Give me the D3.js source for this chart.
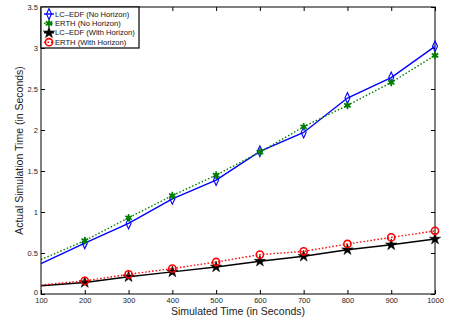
<!DOCTYPE html>
<html><head><meta charset="utf-8">
<script src="https://cdn.jsdelivr.net/npm/d3@7"></script>
<style>body{margin:0;background:#fff;}svg{display:block;font-family:"Liberation Sans",Arial,sans-serif;}</style>
</head><body><svg id="c" width="456" height="320"></svg>
<script>
const simTime = [100,200,300,400,500,600,700,800,900,1000];
const lcEdfNoHorizon = [0.37,0.62,0.86,1.16,1.39,1.74,1.97,2.39,2.64,3.02];
const erthNoHorizon  = [0.42,0.65,0.93,1.20,1.45,1.73,2.04,2.30,2.58,2.91];
const lcEdfWithHorizon = [0.10,0.14,0.21,0.27,0.33,0.40,0.46,0.54,0.60,0.67];
const erthWithHorizon  = [0.11,0.16,0.24,0.31,0.39,0.48,0.52,0.61,0.69,0.77];
const xTicks = [100,200,300,400,500,600,700,800,900,1000];
const yTicks = [0,0.5,1,1.5,2,2.5,3,3.5];
const seriesNames = ["LC\u2013EDF (No Horizon)","ERTH (No Horizon)","LC\u2013EDF (With Horizon)","ERTH (With Horizon)"];

const series = [
  {name:seriesNames[0], values:lcEdfNoHorizon, color:"#0000ff", dash:null, marker:"diamond"},
  {name:seriesNames[1], values:erthNoHorizon, color:"#008000", dash:"1.5,2", marker:"asterisk"},
  {name:seriesNames[2], values:lcEdfWithHorizon, color:"#000000", dash:null, marker:"star"},
  {name:seriesNames[3], values:erthWithHorizon, color:"#ff0000", dash:"1.5,2", marker:"circle"}
];

const svg = d3.select("#c");
const L=41, R=435, T=7, B=294;
const x = d3.scaleLinear().domain([100,1000]).range([L,R]);
const y = d3.scaleLinear().domain([0,3.5]).range([B,T]);

// frame
svg.append("rect").attr("x",L).attr("y",T).attr("width",R-L).attr("height",B-T)
  .attr("fill","none").attr("stroke","#000").attr("stroke-width",1);

// axes with inward ticks
const xa = svg.append("g").attr("transform",`translate(0,${B})`)
  .call(d3.axisBottom(x).tickValues(xTicks).tickSizeInner(-4).tickSizeOuter(0).tickPadding(3).tickFormat(d3.format("d")));
const xt = svg.append("g").attr("transform",`translate(0,${T})`)
  .call(d3.axisTop(x).tickValues(xTicks).tickSizeInner(-4).tickSizeOuter(0).tickFormat(""));
const ya = svg.append("g").attr("transform",`translate(${L},0)`)
  .call(d3.axisLeft(y).tickValues(yTicks).tickSizeInner(-4).tickSizeOuter(0).tickPadding(3).tickFormat(d=>d));
const yr = svg.append("g").attr("transform",`translate(${R},0)`)
  .call(d3.axisRight(y).tickValues(yTicks).tickSizeInner(-4).tickSizeOuter(0).tickFormat(""));
[xa,xt,ya,yr].forEach(g=>{g.select(".domain").remove();g.selectAll("line").attr("stroke","#000");
  g.selectAll("text").attr("font-size",7.5).attr("fill","#222").attr("font-family","Liberation Sans, Arial, sans-serif");});
ya.selectAll("text").attr("dy",d=>d===0?"0.05em":"0.3em");
xa.selectAll("text").attr("y",3.5).attr("dy","0.71em");

// axis labels
svg.append("text").attr("x",(L+R)/2).attr("y",314.5).attr("text-anchor","middle")
  .attr("font-size",10.5).attr("fill","#222").text("Simulated Time (in Seconds)");
svg.append("text").attr("transform",`translate(23,${(T+B)/2}) rotate(-90)`).attr("text-anchor","middle")
  .attr("font-size",10.5).attr("fill","#222").text("Actual Simulation Time (in Seconds)");

function drawMarker(g, type, color, cx, cy){
  if(type==="diamond"){
    g.append("path").attr("d",d3.symbol(d3.symbolDiamond,34)()).attr("transform",`translate(${cx},${cy}) scale(0.8,1)`)
      .attr("fill","none").attr("stroke",color).attr("stroke-width",1.3);
  } else if(type==="asterisk"){
    g.append("path").attr("d",d3.symbol(d3.symbolAsterisk,40)()).attr("transform",`translate(${cx},${cy})`)
      .attr("fill","none").attr("stroke",color).attr("stroke-width",1.6);
    g.append("circle").attr("cx",cx).attr("cy",cy).attr("r",2.2).attr("fill",color);
  } else if(type==="star"){
    g.append("path").attr("d",d3.symbol(d3.symbolStar,40)()).attr("transform",`translate(${cx},${cy})`)
      .attr("fill",color).attr("stroke",color).attr("stroke-width",0.5);
  } else if(type==="circle"){
    g.append("circle").attr("cx",cx).attr("cy",cy).attr("r",3.6).attr("fill","none")
      .attr("stroke",color).attr("stroke-width",1.6);
  }
}

const line = d3.line().x((d,i)=>x(simTime[i])).y(d=>y(d));
series.forEach(s=>{
  const g = svg.append("g");
  g.append("path").attr("d",line(s.values)).attr("fill","none").attr("stroke",s.color)
    .attr("stroke-width",1.4).attr("stroke-dasharray",s.dash);
  s.values.forEach((v,i)=>{ if(i>0) drawMarker(g,s.marker,s.color,x(simTime[i]),y(v)); });
});

// legend
const lg = svg.append("g");
lg.append("rect").attr("x",L).attr("y",T).attr("width",98).attr("height",41)
  .attr("fill","#fff").attr("stroke","#000").attr("stroke-width",1.2);
series.forEach((s,i)=>{
  const cy = 14 + i*9.4;
  lg.append("line").attr("x1",44).attr("x2",54).attr("y1",cy).attr("y2",cy).attr("stroke",s.color)
    .attr("stroke-width",1.4).attr("stroke-dasharray",s.dash);
  drawMarker(lg,s.marker,s.color,49,cy);
  lg.append("text").attr("x",55).attr("y",cy).attr("dy","0.33em").attr("font-size",7.6).attr("fill","#111").text(s.name);
});
</script></body></html>
